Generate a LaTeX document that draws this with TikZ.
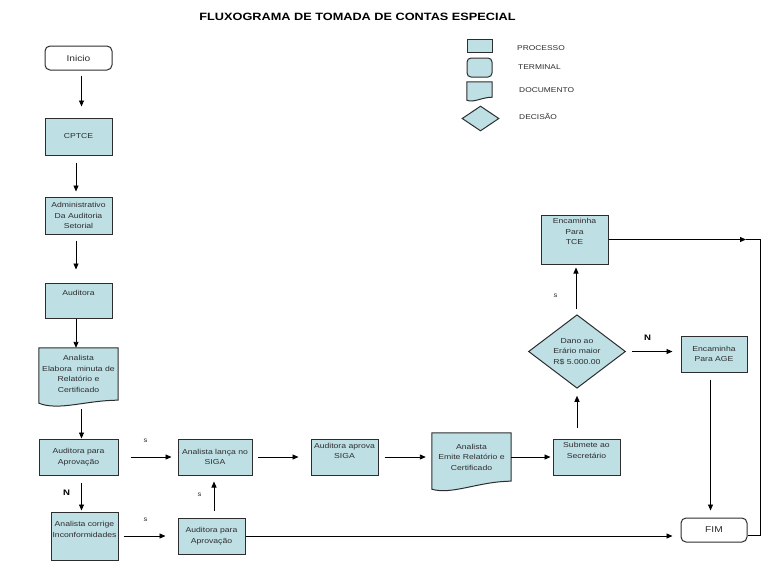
\documentclass[tikz,border=0pt]{standalone}
\usepackage{fontspec}
\setmainfont{Liberation Sans}[FakeStretch=1.2]
\usetikzlibrary{arrows.meta,shapes.geometric,backgrounds,calc}
\definecolor{boxfill}{RGB}{190,223,227}
\definecolor{ink}{RGB}{45,45,48}
% document symbol: node, drop of left end, extra dip
\newcommand\docshape[3]{%
  \draw[ink, line width=1pt, fill=boxfill] (#1.north west) -- (#1.north east) -- (#1.south east)
    .. controls ($(#1.south east)!0.4!(#1.south west)$) and ($(#1.south east)!0.75!(#1.south west)+(0,#2+#3)$)
    .. ($(#1.south west)+(0,#2)$) -- cycle;}
\begin{document}
\begin{tikzpicture}[x=1pt, y=-1pt, font=\fontsize{7.2}{10.5}\selectfont, text=ink,
    proc/.style={draw=ink, fill=boxfill, line width=1pt, minimum width=67pt, minimum height=36pt, inner sep=1pt, align=center},
    term/.style={draw=ink, fill=white, line width=1pt, rounded corners=5pt, minimum width=67pt, minimum height=24pt, font=\fontsize{8.5}{10}\selectfont},
    docbox/.style={minimum width=79pt, inner sep=0pt, align=center},
    decbox/.style={diamond, draw=ink, fill=boxfill, line width=1pt, minimum width=97pt, minimum height=67pt, inner sep=0pt, align=center},
    boxtext/.style={inner sep=0pt, align=center},
    flow/.style={-{Triangle[length=6pt,width=5pt]}, line width=0.9pt},
    conn/.style={line width=0.9pt},
    yesno/.style={inner sep=0pt, font=\fontsize{6.5}{8}\selectfont},
    noflag/.style={inner sep=0pt, text=black, font=\bfseries\fontsize{8}{10}\selectfont},
    legtext/.style={anchor=west, inner sep=0pt, font=\fontsize{7}{9}\selectfont}]

  \useasboundingbox (0,0) rectangle (768,576);

  \node[text=black, font=\bfseries\fontsize{10.6}{12}\selectfont] (title) at (357.5,17) {FLUXOGRAMA DE TOMADA DE CONTAS ESPECIAL};

  % legend
  \node[proc, minimum width=25pt, minimum height=13pt] (leg-proc) at (479.5,45.5) {};
  \node[proc, rounded corners=4pt, minimum width=25pt, minimum height=19pt] (leg-term) at (479.5,67.5) {};
  \node[docbox, minimum width=25pt, minimum height=15pt] (leg-doc) at (479.5,89.5) {};
  \node[decbox, minimum width=37pt, minimum height=25pt] (leg-dec) at (480.5,118.5) {};
  \node[legtext] (leg-proc-txt) at (517,48) {PROCESSO};
  \node[legtext] (leg-term-txt) at (518,67) {TERMINAL};
  \node[legtext] (leg-doc-txt) at (519,90.5) {DOCUMENTO};
  \node[legtext] (leg-dec-txt) at (519,116) {DECISÃO};

  % left column
  \node[term] (inicio) at (78.5,58) {Inicio};
  \node[proc, minimum height=37pt] (cptce) at (78.5,136.5) {CPTCE};
  \node[proc, minimum height=37pt] (admin) at (78.5,215.5) {Administrativo\\Da Auditoria\\Setorial};
  \node[proc, minimum height=35pt] (audit) at (78.5,300.5) {};
  \node[boxtext] (audit-txt) at ([yshift=-10pt]audit.north) {Auditora};
  \node[docbox, minimum height=52pt] (minuta) at (78.5,374) {Analista\\Elabora~ minuta de\\Relatório e\\Certificado};
  \node[proc, minimum width=79pt] (aprov1) at (78.5,457) {Auditora para\\Aprovação};
  \node[proc, minimum height=48pt] (corrige) at (84.5,536) {};
  \node[boxtext] (corrige-txt) at ([yshift=-18pt]corrige.north) {Analista corrige\\Inconformidades};

  % bottom rows
  \node[proc, minimum width=74pt] (lanca) at (215,457) {Analista lança no\\SIGA};
  \node[proc] (aprov2) at (211.5,536) {Auditora para\\Aprovação};
  \node[proc] (aprova) at (344.5,457) {};
  \node[boxtext] (aprova-txt) at ([yshift=-12.5pt]aprova.north) {Auditora aprova\\SIGA};
  \node[docbox, minimum height=48pt] (emite) at (471.5,457) {Analista\\Emite Relatório e\\Certificado};
  \node[proc] (submete) at (586.5,457) {};
  \node[boxtext] (submete-txt) at ([yshift=-12pt]submete.north) {Submete ao\\Secretário};

  % right part
  \node[decbox] (dano) at (577,351.5) {Dano ao\\Erário maior\\R\$ 5.000.00};
  \node[proc, minimum height=49pt] (tce) at (574.5,239.5) {};
  \node[boxtext] (tce-txt) at ([yshift=-17pt]tce.north) {Encaminha\\Para\\TCE};
  \node[proc, minimum width=66pt] (age) at (714,354) {Encaminha\\Para AGE};
  \node[term, minimum width=66pt] (fim) at (714,530) {FIM};

  \begin{scope}[on background layer]
    \docshape{leg-doc}{3}{3}
    \docshape{minuta}{3}{8}
    \docshape{emite}{8}{6}
  \end{scope}

  \coordinate (tcehead) at (746,239);
  \coordinate (rightline) at (760,239);
  \coordinate (fimin) at ([yshift=-5pt]fim.east);

  % connectors
  \draw[flow, shorten <=5pt, shorten >=11pt] ([xshift=3pt]inicio.south) -- ([xshift=3pt]cptce.north);
  \draw[flow, shorten <=7pt, shorten >=5pt] ([xshift=-2.5pt]cptce.south) -- ([xshift=-2.5pt]admin.north);
  \draw[flow, shorten <=6pt, shorten >=13pt] ([xshift=-2.5pt]admin.south) -- ([xshift=-2.5pt]audit.north);
  \draw[flow] ([xshift=-2.5pt]audit.south) -- ([xshift=-2.5pt]minuta.north);
  \draw[flow, shorten <=9pt] ([xshift=3pt]minuta.south) -- ([xshift=3pt]aprov1.north);
  \draw[flow, shorten <=7pt, shorten >=1pt] ([xshift=3pt]aprov1.south) -- ([xshift=3pt]aprov1.south |- corrige.north);
  \draw[flow, shorten <=12pt, shorten >=6pt] (aprov1.east) -- (lanca.west);
  \draw[flow, shorten <=5pt, shorten >=12pt] (corrige.east) -- (aprov2.west);
  \draw[flow, shorten <=7pt, shorten >=6pt] ([xshift=2.5pt]aprov2.north) -- ([xshift=2.5pt]aprov2.north |- lanca.south);
  \draw[flow, shorten <=5pt, shorten >=12pt] (lanca.east) -- (aprova.west);
  \draw[flow, shorten <=6pt, shorten >=6pt] (aprova.east) -- (emite.west);
  \draw[flow, shorten >=2pt] (emite.east) -- (submete.west);
  \draw[flow, shorten <=11pt, shorten >=7pt] (dano.south |- submete.north) -- (dano.south);
  \draw[flow, shorten <=5pt, shorten >=3pt] ([xshift=-1pt]dano.north) -- ([xshift=-1pt]dano.north |- tce.south);
  \draw[flow, shorten <=6pt, shorten >=8pt] (dano.east) -- (dano.east -| age.west);
  \draw[flow, shorten <=7pt, shorten >=7pt] ([xshift=-3.5pt]age.south) -- ([xshift=-3.5pt]fim.north);
  \draw[flow, shorten >=8pt] (aprov2.east) -- (aprov2.east -| fim.west);
  \draw[flow] (tce.east) -- (tce.east -| tcehead);
  \draw[conn] (tce.east -| tcehead) -- (tce.east -| rightline) -- (rightline |- fimin) -- (fimin);

  % answers
  \node[yesno] (s-lanca) at (145.5,440.5) {s};
  \node[yesno] (s-aprov2) at (145.5,519.5) {s};
  \node[yesno] (s-up) at (199.5,495) {s};
  \node[yesno] (s-tce) at (555.5,296) {s};
  \node[noflag] (n-corrige) at (66.5,493) {N};
  \node[noflag] (n-age) at (647.5,337.5) {N};
\end{tikzpicture}
\end{document}
